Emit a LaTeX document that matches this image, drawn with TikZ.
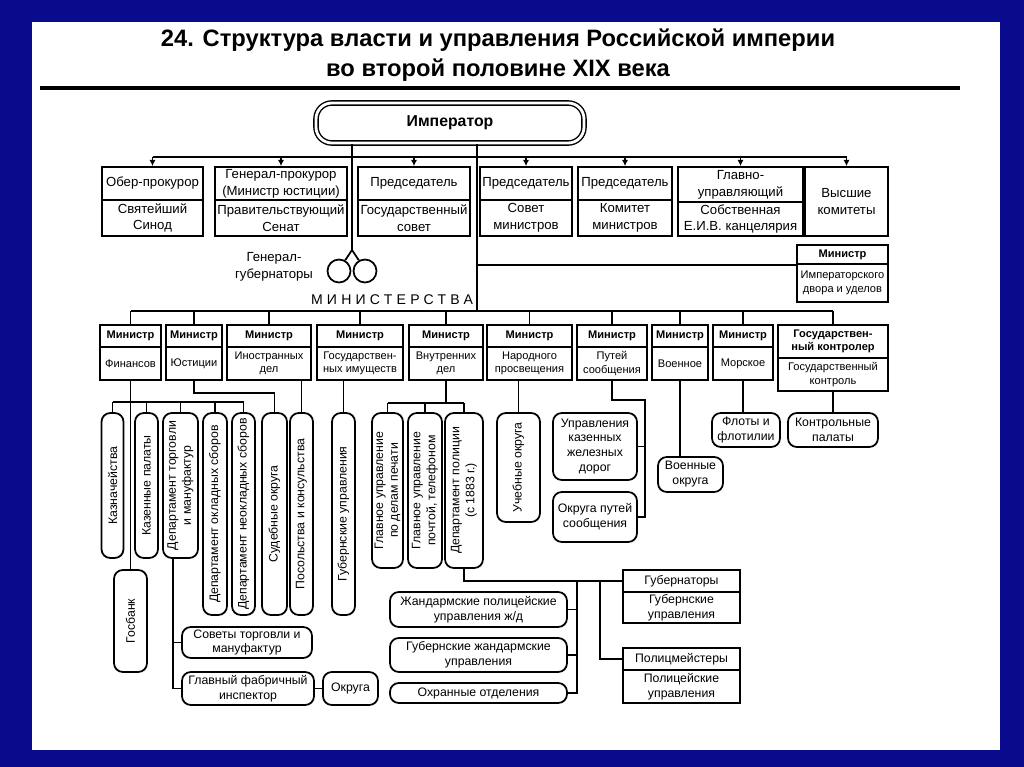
\documentclass[tikz,border=0pt]{standalone}
\usepackage{fontspec}
\setmainfont{Liberation Sans}
\usetikzlibrary{arrows.meta}
\definecolor{Navy}{HTML}{0A0A8C}

\begin{document}
\begin{tikzpicture}[x=0.02cm,y=-0.02cm,
  head/.style={draw,line width=1pt,inner sep=0.5pt,align=center,font=\fontsize{7.5}{9.5}\selectfont},
  minister/.style={head,font=\bfseries\fontsize{6.3}{7.6}\selectfont},
  ministry/.style={head,font=\fontsize{6.3}{7.6}\selectfont},
  unit/.style={head,rounded corners=5pt,font=\fontsize{7}{8.5}\selectfont},
  vunit/.style={unit,rotate=90},
  link/.style={line width=1pt},
  arrow/.style={-{Latex[length=3.5pt,width=3.5pt]},line width=0.8pt}
]
\fill[Navy] (0,0) rectangle (1024,767);
\fill[white] (32,22) rectangle (1000,750);
\node[align=center,font=\bfseries\fontsize{13.5}{17}\selectfont] (title) at (498,55) {24. Структура власти и управления Российской империи\\во второй половине XIX века};
\draw[line width=2pt] (40,88) -- (960,88);

\node[draw,double,double distance=1.6pt,line width=0.8pt,rounded corners=9pt,minimum width=5.36cm,minimum height=0.8cm,font=\bfseries\fontsize{9}{11}\selectfont] (emp) at (450,123) {Император};

\node[head,minimum width=2.02cm,minimum height=0.66cm] (ober) at (152.5,183.5) {Обер-прокурор};
\node[head,minimum width=2.02cm,minimum height=0.72cm] (synod) at (152.5,218) {Святейший\\Синод};
\node[head,minimum width=2.64cm,minimum height=0.66cm] (genproc) at (281,183.5) {Генерал-прокурор\\(Министр юстиции)};
\node[head,minimum width=2.64cm,minimum height=0.72cm] (senate) at (281,218) {Правительствующий\\Сенат};
\node[head,minimum width=2.24cm,minimum height=0.66cm] (chairgs) at (414,183.5) {Председатель};
\node[head,minimum width=2.24cm,minimum height=0.72cm] (statecouncil) at (414,218) {Государственный\\совет};
\node[head,minimum width=1.84cm,minimum height=0.66cm] (chairsm) at (526,183.5) {Председатель};
\node[head,minimum width=1.84cm,minimum height=0.72cm] (council) at (526,218) {Совет\\министров};
\node[head,minimum width=1.88cm,minimum height=0.66cm] (chairkm) at (625,183.5) {Председатель};
\node[head,minimum width=1.88cm,minimum height=0.72cm] (committee) at (625,218) {Комитет\\министров};
\node[head,minimum width=2.5cm,minimum height=0.7cm] (chief) at (740.5,184.5) {Главно-\\управляющий};
\node[head,minimum width=2.5cm,minimum height=0.68cm] (chancery) at (740.5,219) {Собственная\\Е.И.В. канцелярия};
\node[head,minimum width=1.66cm,minimum height=1.38cm] (highcom) at (846.5,201.5) {Высшие\\комитеты};

\coordinate (topbus) at (450,157);
\draw[link,line width=0.8pt] (ober.north |- topbus) -- (highcom.north |- topbus);
\draw[arrow] (ober.north |- topbus) -- (ober.north);
\draw[arrow] (genproc.north |- topbus) -- (genproc.north);
\draw[arrow] (chairgs.north |- topbus) -- (chairgs.north);
\draw[arrow] (chairsm.north |- topbus) -- (chairsm.north);
\draw[arrow] (chairkm.north |- topbus) -- (chairkm.north);
\draw[arrow] (chief.north |- topbus) -- (chief.north);
\draw[arrow] (highcom.north |- topbus) -- (highcom.north);

\coordinate (ggfork) at (352,250);
\node[draw,circle,line width=1pt,minimum size=0.46cm,inner sep=0pt] (gg1) at (339,271) {};
\node[draw,circle,line width=1pt,minimum size=0.46cm,inner sep=0pt] (gg2) at (365,271) {};
\node[align=center,font=\fontsize{7.5}{10}\selectfont] (ggtext) at (274,267) {Генерал-\\губернаторы};
\draw[link] (emp.south -| ggfork) -- (ggfork);
\draw[link] (ggfork) -- (gg1.60);
\draw[link] (ggfork) -- (gg2.120);

\node[font=\fontsize{8}{10}\selectfont\addfontfeatures{LetterSpace=30}] (mins) at (392,300) {МИНИСТЕРСТВА};

\node[minister,minimum width=1.82cm,minimum height=0.38cm] (mcourt) at (842.5,254.5) {Министр};
\node[ministry,minimum width=1.82cm,minimum height=0.76cm] (court) at (842.5,283) {Императорского\\двора и уделов};

\coordinate (minbus) at (477,311);
\draw[link] (emp.south -| minbus) -- (minbus);
\draw[link] (mcourt.south west -| minbus) -- (mcourt.south west);

\node[minister,minimum width=1.22cm,minimum height=0.44cm] (mfin) at (130.5,336) {Министр};
\node[ministry,minimum width=1.22cm,minimum height=0.66cm] (fin) at (130.5,363.5) {Финансов};
\node[minister,minimum width=1.12cm,minimum height=0.44cm] (mjust) at (194,336) {Министр};
\node[ministry,minimum width=1.12cm,minimum height=0.66cm] (just) at (194,363.5) {Юстиции};
\node[minister,minimum width=1.68cm,minimum height=0.44cm] (mforeign) at (269,336) {Министр};
\node[ministry,minimum width=1.68cm,minimum height=0.66cm] (foreign) at (269,363.5) {Иностранных\\дел};
\node[minister,minimum width=1.72cm,minimum height=0.44cm] (mprop) at (360,336) {Министр};
\node[ministry,minimum width=1.72cm,minimum height=0.66cm] (prop) at (360,363.5) {Государствен-\\ных имуществ};
\node[minister,minimum width=1.48cm,minimum height=0.44cm] (mint) at (446,336) {Министр};
\node[ministry,minimum width=1.48cm,minimum height=0.66cm] (interior) at (446,363.5) {Внутренних\\дел};
\node[minister,minimum width=1.7cm,minimum height=0.44cm] (medu) at (529.5,336) {Министр};
\node[ministry,minimum width=1.7cm,minimum height=0.66cm] (edu) at (529.5,363.5) {Народного\\просвещения};
\node[minister,minimum width=1.4cm,minimum height=0.44cm] (mrail) at (612,336) {Министр};
\node[ministry,minimum width=1.4cm,minimum height=0.66cm] (rail) at (612,363.5) {Путей\\сообщения};
\node[minister,minimum width=1.12cm,minimum height=0.44cm] (mwar) at (680,336) {Министр};
\node[ministry,minimum width=1.12cm,minimum height=0.66cm] (war) at (680,363.5) {Военное};
\node[minister,minimum width=1.2cm,minimum height=0.44cm] (mnavy) at (743,336) {Министр};
\node[ministry,minimum width=1.2cm,minimum height=0.66cm] (navy) at (743,363.5) {Морское};
\node[minister,minimum width=2.2cm,minimum height=0.66cm] (mctrl) at (833,341.5) {Государствен-\\ный контролер};
\node[ministry,minimum width=2.2cm,minimum height=0.66cm] (ctrl) at (833,374.5) {Государственный\\контроль};

\draw[link] (mfin.north |- minbus) -- (mctrl.north |- minbus);
\draw[link] (mfin.north |- minbus) -- (mfin.north);
\draw[link] (mjust.north |- minbus) -- (mjust.north);
\draw[link] (mforeign.north |- minbus) -- (mforeign.north);
\draw[link] (mprop.north |- minbus) -- (mprop.north);
\draw[link] (mint.north |- minbus) -- (mint.north);
\draw[link] (medu.north |- minbus) -- (medu.north);
\draw[link] (mrail.north |- minbus) -- (mrail.north);
\draw[link] (mwar.north |- minbus) -- (mwar.north);
\draw[link] (mnavy.north |- minbus) -- (mnavy.north);
\draw[link] (mctrl.north |- minbus) -- (mctrl.north);

\node[vunit,minimum width=2.9cm,minimum height=0.44cm] (kazn) at (112.5,485.5) {Казначейства};
\node[vunit,minimum width=2.9cm,minimum height=0.46cm] (kazpal) at (146.5,485.5) {Казенные палаты};
\node[vunit,minimum width=2.9cm,minimum height=0.7cm] (deptorg) at (180.5,485.5) {Департамент торговли\\и мануфактур};
\node[vunit,minimum width=4.04cm,minimum height=0.48cm] (depokl) at (215,514) {Департамент окладных сборов};
\node[vunit,minimum width=4.04cm,minimum height=0.46cm] (depneokl) at (243.5,514) {Департамент неокладных сборов};
\node[vunit,minimum width=4.04cm,minimum height=0.5cm] (sudokr) at (274.5,514) {Судебные округа};
\node[vunit,minimum width=4.04cm,minimum height=0.46cm] (posol) at (301.5,514) {Посольства и консульства};
\node[vunit,minimum width=2.04cm,minimum height=0.66cm] (gosbank) at (130.5,621) {Госбанк};
\node[unit,minimum width=2.6cm,minimum height=0.62cm] (sovety) at (247,642.5) {Советы торговли и\\мануфактур};
\node[unit,minimum width=2.64cm,minimum height=0.66cm] (glavinsp) at (248,688.5) {Главный фабричный\\инспектор};
\node[unit,minimum width=1.1cm,minimum height=0.66cm] (okruga) at (350.5,688.5) {Округа};

\coordinate (finbus) at (130,402);
\draw[link] (fin.south) -- (fin.south |- gosbank.east);
\draw[link] (kazn.east |- finbus) -- (depneokl.east |- finbus);
\draw[link] (kazn.east |- finbus) -- (kazn.east);
\draw[link] (kazpal.east |- finbus) -- (kazpal.east);
\draw[link] (deptorg.east |- finbus) -- (deptorg.east);
\draw[link] (depokl.east |- finbus) -- (depokl.east);
\draw[link] (depneokl.east |- finbus) -- (depneokl.east);
\draw[link] (just.south) -- ++(0,12) -| (sudokr.east);
\draw[link] (posol.east |- foreign.south) -- (posol.east);
\coordinate (torgj) at (173,558);
\draw[link] (torgj) |- (glavinsp.west);
\draw[link] (sovety.west) -- (sovety.west -| torgj);
\draw[link] (glavinsp) -- (okruga);

\node[vunit,minimum width=4.04cm,minimum height=0.46cm] (gubupr) at (343.5,514) {Губернские управления};
\draw[link] (gubupr.east |- prop.south) -- (gubupr.east);

\node[vunit,minimum width=3.1cm,minimum height=0.62cm] (pechat) at (387.5,490.5) {Главное управление\\по делам печати};
\node[vunit,minimum width=3.1cm,minimum height=0.68cm] (pochta) at (425,490.5) {Главное управление\\почтой, телефоном};
\node[vunit,minimum width=3.1cm,minimum height=0.76cm] (police) at (464,490.5) {Департамент полиции\\(с 1883 г.)};
\coordinate (intbus) at (446,403);
\draw[link] (interior.south) -- (intbus);
\draw[link] (pechat.east |- intbus) -- (police.east |- intbus);
\draw[link] (pechat.east |- intbus) -- (pechat.east);
\draw[link] (pochta.east |- intbus) -- (pochta.east);
\draw[link] (police.east |- intbus) -- (police.east);

\node[unit,minimum width=3.54cm,minimum height=0.7cm] (zhd) at (478.5,609.5) {Жандармские полицейские\\управления ж/д};
\node[unit,minimum width=3.54cm,minimum height=0.68cm] (gubzh) at (478.5,655) {Губернские жандармские\\управления};
\node[unit,minimum width=3.54cm,minimum height=0.4cm] (okhr) at (478.5,693) {Охранные отделения};
\node[head,minimum width=2.34cm,minimum height=0.44cm,font=\fontsize{7}{8.5}\selectfont] (governors) at (681.5,581) {Губернаторы};
\node[head,minimum width=2.34cm,minimum height=0.62cm,font=\fontsize{7}{8.5}\selectfont] (gubupr2) at (681.5,607.5) {Губернские\\управления};
\node[head,minimum width=2.34cm,minimum height=0.44cm,font=\fontsize{7}{8.5}\selectfont] (politsm) at (681.5,659) {Полицмейстеры};
\node[head,minimum width=2.34cm,minimum height=0.66cm,font=\fontsize{7}{8.5}\selectfont] (polupr) at (681.5,686.5) {Полицейские\\управления};

\coordinate (polj) at (577,581);
\coordinate (polk) at (600,581);
\draw[link] (police.west) |- (governors.west);
\draw[link] (polj) |- (okhr.east);
\draw[link] (zhd.east) -- (zhd.east -| polj);
\draw[link] (gubzh.east) -- (gubzh.east -| polj);
\draw[link] (polk) |- (politsm.west);

\node[vunit,minimum width=2.18cm,minimum height=0.86cm] (uchokr) at (518.5,467.5) {Учебные округа};
\draw[link] (uchokr.east |- edu.south) -- (uchokr.east);

\node[unit,minimum width=1.68cm,minimum height=1.34cm] (upravzhd) at (595,446.5) {Управления\\казенных\\железных\\дорог};
\node[unit,minimum width=1.68cm,minimum height=1cm] (okrput) at (595,517) {Округа путей\\сообщения};
\coordinate (railj) at (645,400);
\draw[link] (rail.south) |- (railj) |- (okrput.east);
\draw[link] (upravzhd.east) -- (upravzhd.east -| railj);

\node[unit,minimum width=1.3cm,minimum height=0.7cm] (voenokr) at (690.5,474.5) {Военные\\округа};
\draw[link] (war.south) -- (war.south |- voenokr.north);
\node[unit,minimum width=1.36cm,minimum height=0.68cm] (floty) at (746,430) {Флоты и\\флотилии};
\draw[link] (navy.south) -- (navy.south |- floty.north);
\node[unit,minimum width=1.8cm,minimum height=0.68cm] (kontrpal) at (833,430) {Контрольные\\палаты};
\draw[link] (ctrl.south) -- (kontrpal.north);
\end{tikzpicture}
\end{document}
